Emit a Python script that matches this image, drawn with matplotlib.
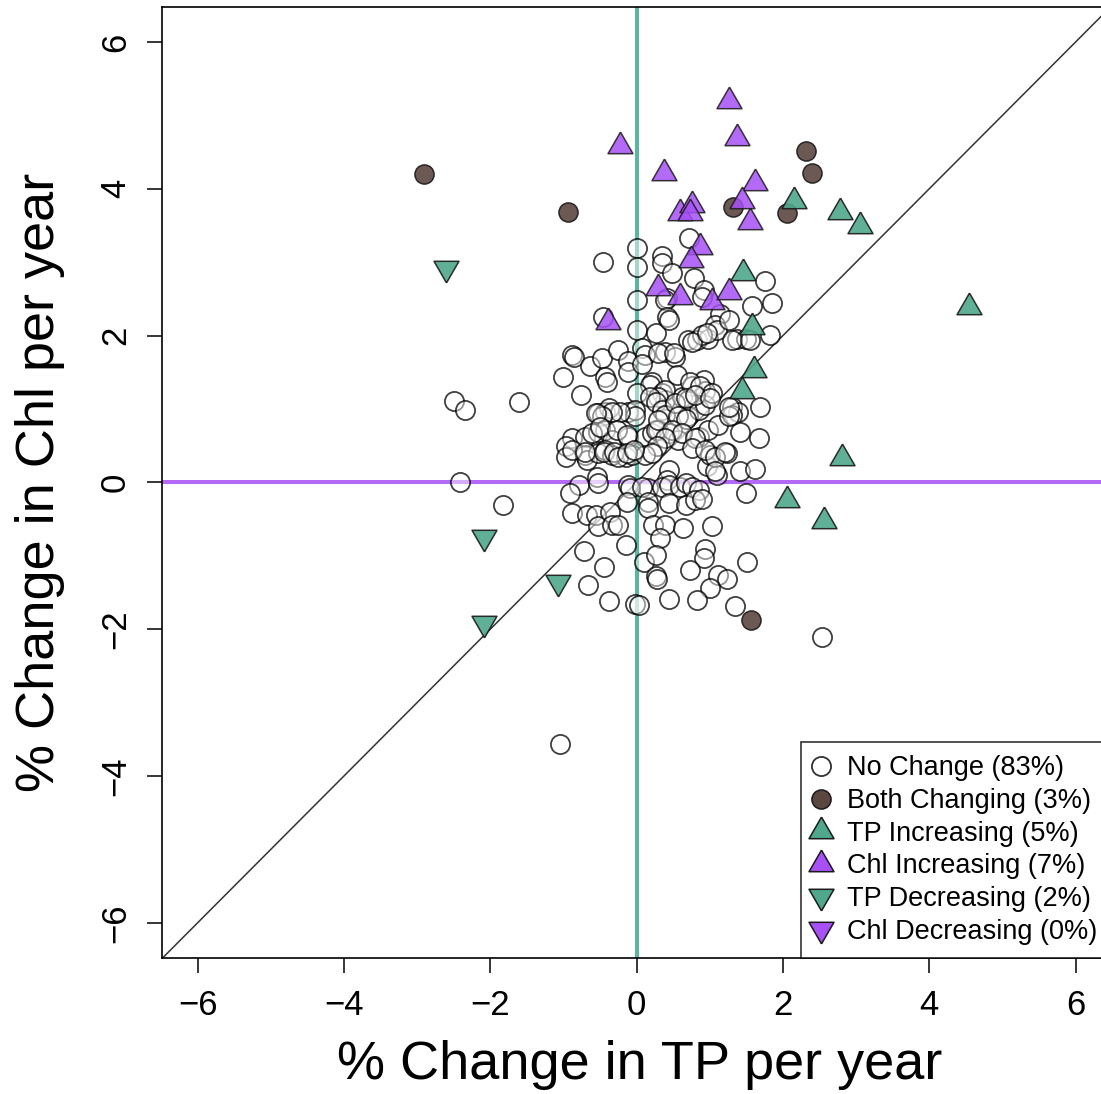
import matplotlib
matplotlib.use('Agg')

import matplotlib.pyplot as plt
from matplotlib.lines import Line2D

plt.rcParams['font.family'] = ['Liberation Sans', 'DejaVu Sans']

# --- data: % change per year (TP on x, Chl on y) ---
nochange_x = [0.72, 0.00, 0.00, -0.46, 0.35, 0.35, 0.48, 0.79, 1.76,
              0.41, 0.39, 0.92, 0.89, 1.58, 1.85, 1.14, -0.46, 0.00, 0.00, 0.26, 0.41, 0.44, 1.07,
              0.71, 0.82, 0.98, 1.10, 1.26, 1.37, 1.49, 1.83, 0.89, 0.76, 0.96, 1.30, 1.55,
              1.69, -2.49, -2.34, -1.60,
              -0.88, -0.85, -1.01, -0.63, -0.47, -0.43, -0.41, -0.76, -0.25, -0.11, -0.11, 0.07, 0.12, 0.07,
              0.39, 0.53, 0.30, 0.51, 0.21, 0.19, 0.55, 0.76, 0.92, 0.94, 0.00, 0.35, 0.39, 0.62, 0.71,
              0.73, 0.87, 0.39, 0.30,
              -0.52, -0.43, -0.38, -0.11, 0.19, 0.26, 0.35, 0.39, 0.53, 0.71, 0.85, 0.94, 1.03, 1.30,
              1.39, 0.67, 0.80, 1.01, 0.57, -0.02, -0.02, -0.22, -0.34, -0.47, -0.56,
              -0.88, -0.70, -0.52, -0.43, -0.34, -0.11, 0.12, 0.21, 0.30, 0.44, 0.57, 0.67, 0.85, 0.98,
              1.12, 1.30, 1.42, 1.67, -0.61, -0.50, -0.27, -0.13, 0.26, 0.30, 0.48, 0.62, 0.39, 0.28,
              0.80, 1.26, 1.26,
              -0.97, -0.97, -0.70, -0.68, -0.52, -0.43, -0.34, -0.15, -0.06, 0.12, 0.21, 0.44, 0.76,
              0.96, 1.10, 1.23, 1.42, 1.62, 1.01, -0.88, -0.70, -0.45, -0.31, -0.25, -0.13, -0.04,
              0.41, 0.94, 1.07, 1.21, 1.07,
              -2.41, -0.79, -0.54, -0.52, -0.11, 0.16, 0.35, 0.44, 0.60, 0.67, 0.76, 1.49, -0.91,
              -0.09, 0.07, 0.85,
              -1.82, -0.88, -0.68, -0.56, -0.52, -0.36, -0.34, -0.25, -0.13, 0.16, 0.16, 0.44, 0.67,
              0.80, 0.89, 0.23, 0.39, 0.64, 1.03, 0.32, -0.15, -0.72, -0.45, 0.10, 0.26, 0.94, 0.92,
              1.51, -0.66, 0.26, 0.28, 0.73, 1.12, 1.23, 1.01,
              -0.38, -0.02, 0.03, 0.45, 0.82, 1.35, 2.54, -1.05]
nochange_y = [3.33, 3.19, 2.94, 3.01, 3.08, 2.99, 2.85, 2.78, 2.75,
              2.51, 2.49, 2.62, 2.53, 2.40, 2.44, 2.30, 2.25, 2.49, 2.08, 2.03, 2.25, 2.21, 2.15,
              1.94, 1.94, 1.96, 2.08, 2.21, 1.96, 1.96, 2.01, 2.01, 1.92, 2.03, 1.94, 1.94,
              1.03, 1.11, 0.99, 1.09,
              1.74, 1.71, 1.44, 1.58, 1.69, 1.44, 1.37, 1.19, 1.81, 1.65, 1.51, 1.83, 1.74, 1.62,
              1.78, 1.71, 1.76, 1.76, 1.37, 1.33, 1.46, 1.31, 1.40, 1.24, 1.22, 1.22, 1.12, 1.17, 1.12,
              1.37, 1.31, 1.26, 1.17,
              0.94, 0.96, 1.01, 0.96, 1.17, 1.10, 0.99, 0.92, 1.08, 0.90, 0.99, 1.06, 1.22, 1.03,
              0.96, 1.15, 1.19, 1.15, 0.90, 0.99, 0.90, 0.96, 0.96, 0.90, 0.94,
              0.60, 0.62, 0.69, 0.72, 0.58, 0.62, 0.62, 0.67, 0.72, 0.67, 0.58, 0.87, 0.62, 0.72,
              0.78, 0.92, 0.69, 0.60, 0.67, 0.76, 0.72, 0.65, 0.72, 0.85, 0.72, 0.67, 0.60, 0.49,
              0.60, 0.90, 1.03,
              0.49, 0.35, 0.37, 0.31, 0.40, 0.44, 0.37, 0.35, 0.37, 0.37, 0.40, 0.17, 0.47,
              0.22, 0.10, 0.40, 0.15, 0.19, 0.37, 0.44, 0.42, 0.42, 0.42, 0.35, 0.40, 0.44,
              0.03, 0.44, 0.35, 0.42, 0.15,
              0.00, -0.03, 0.08, -0.01, -0.03, -0.08, -0.06, -0.03, -0.06, -0.01, -0.06, -0.15, -0.15,
              -0.08, -0.06, -0.10,
              -0.31, -0.42, -0.44, -0.44, -0.60, -0.40, -0.58, -0.58, -0.26, -0.26, -0.35, -0.28, -0.31,
              -0.24, -0.22, -0.58, -0.58, -0.62, -0.60, -0.76, -0.85, -0.94, -1.15, -1.08, -0.99, -0.90, -1.03,
              -1.08, -1.40, -1.28, -1.31, -1.19, -1.26, -1.31, -1.44,
              -1.61, -1.65, -1.67, -1.59, -1.60, -1.68, -2.11, -3.56]

both_x = [-2.90, -0.93, 2.31, 2.40, 1.32, 2.05, 1.57]
both_y = [4.20, 3.68, 4.52, 4.22, 3.75, 3.67, -1.87]

tp_inc_x = [2.15, 2.78, 3.06, 1.46, 4.55, 1.58, 1.60, 1.44, 2.81, 2.05, 2.56]
tp_inc_y = [3.84, 3.69, 3.50, 2.85, 2.39, 2.12, 1.53, 1.24, 0.33, -0.24, -0.53]

chl_inc_x = [1.27, 1.37, -0.22, 0.38, 1.62, 1.44, 1.55, 0.60, 0.76, 0.73, 0.87, 0.75,
             0.30, 0.60, 1.03, 1.26, -0.39]
chl_inc_y = [5.20, 4.69, 4.58, 4.22, 4.08, 3.83, 3.55, 3.67, 3.78, 3.67, 3.21, 3.03,
             2.65, 2.53, 2.46, 2.60, 2.19]

tp_dec_x = [-2.61, -2.09, -1.07, -2.09]
tp_dec_y = [2.92, -0.74, -1.35, -1.91]

chl_dec_x = []
chl_dec_y = []

legend_labels = ['No Change (83%)', 'Both Changing (3%)', 'TP Increasing (5%)',
                 'Chl Increasing (7%)', 'TP Decreasing (2%)', 'Chl Decreasing (0%)']

# colours
GREEN = '#4FA88C'
PURPLE = '#A650F5'
BROWN = '#5C4740'

# equilateral triangles centred on the centroid (like R pch 24/25)
TRI_UP = [(0, 1.1547), (1, -0.57735), (-1, -0.57735), (0, 1.1547)]
TRI_DN = [(0, -1.1547), (1, 0.57735), (-1, 0.57735), (0, -1.1547)]

fig = plt.figure(figsize=(11.01, 10.94), dpi=100)
ax = fig.add_axes([0.1475, 0.1242, 0.8613, 0.8696])

lim = (-6.48, 6.48)
ax.set_xlim(lim)
ax.set_ylim(lim)

# reference lines
ax.axline((0, 0), slope=1, color='#333333', lw=1.1, zorder=1)
ax.axvline(0, color='#5BB5A0', lw=2.9, zorder=1)
ax.axhline(0, color='#B469F7', lw=2.9, zorder=1)

circ_s = 190
tri_s = 430
edge = '#1a1a1a'

ax.scatter(nochange_x, nochange_y, s=circ_s, marker='o', facecolors=(1, 1, 1, 0.45),
           edgecolors=(0, 0, 0, 0.75), linewidths=1.3, zorder=2)
ax.scatter(both_x, both_y, s=circ_s, marker='o', color=BROWN, alpha=0.9,
           edgecolors=edge, linewidths=1.1, zorder=3)
ax.scatter(tp_inc_x, tp_inc_y, s=tri_s, marker=TRI_UP, color=GREEN, alpha=0.9,
           edgecolors=edge, linewidths=1.1, zorder=3)
ax.scatter(chl_inc_x, chl_inc_y, s=tri_s, marker=TRI_UP, color=PURPLE, alpha=0.85,
           edgecolors=edge, linewidths=1.1, zorder=3)
ax.scatter(tp_dec_x, tp_dec_y, s=tri_s, marker=TRI_DN, color=GREEN, alpha=0.9,
           edgecolors=edge, linewidths=1.1, zorder=3)
ax.scatter(chl_dec_x, chl_dec_y, s=tri_s, marker=TRI_DN, color=PURPLE, alpha=0.85,
           edgecolors=edge, linewidths=1.1, zorder=3)

# axes styling (R base look)
ticks = [-6, -4, -2, 0, 2, 4, 6]
ax.set_xticks(ticks)
ax.set_yticks(ticks)
ax.tick_params(axis='both', direction='out', length=11, width=1.1, labelsize=25, pad=11)
for lab in ax.get_yticklabels():
    lab.set_rotation(90)
    lab.set_va('center')
for sp in ax.spines.values():
    sp.set_linewidth(1.2)

fig.text(640 / 1101, 1 - 1065 / 1094, '% Change in TP per year', fontsize=39,
         ha='center', va='center')
fig.text(40 / 1101, 1 - 482 / 1094, '% Change in Chl per year', fontsize=39,
         ha='center', va='center', rotation=90)

# legend
ms_c = circ_s ** 0.5
ms_t = tri_s ** 0.5
handles = [
    Line2D([], [], ls='none', marker='o', ms=ms_c, mfc='white', mec='#333333', mew=1.3),
    Line2D([], [], ls='none', marker='o', ms=ms_c, mfc=BROWN, mec=edge, mew=1.1),
    Line2D([], [], ls='none', marker=TRI_UP, ms=ms_t, mfc=GREEN, mec=edge, mew=1.1),
    Line2D([], [], ls='none', marker=TRI_UP, ms=ms_t, mfc=PURPLE, mec=edge, mew=1.1),
    Line2D([], [], ls='none', marker=TRI_DN, ms=ms_t, mfc=GREEN, mec=edge, mew=1.1),
    Line2D([], [], ls='none', marker=TRI_DN, ms=ms_t, mfc=PURPLE, mec=edge, mew=1.1),
]
leg = ax.legend(handles, legend_labels, loc='lower right', fontsize=19.5, frameon=True,
                fancybox=False, borderaxespad=0, borderpad=0.5, handlelength=0.5,
                handletextpad=0.7, labelspacing=0.245)
leg.get_frame().set_edgecolor('black')
leg.get_frame().set_linewidth(1.2)
leg.set_zorder(5)

plt.savefig('out.png', dpi=100)
plt.close()
